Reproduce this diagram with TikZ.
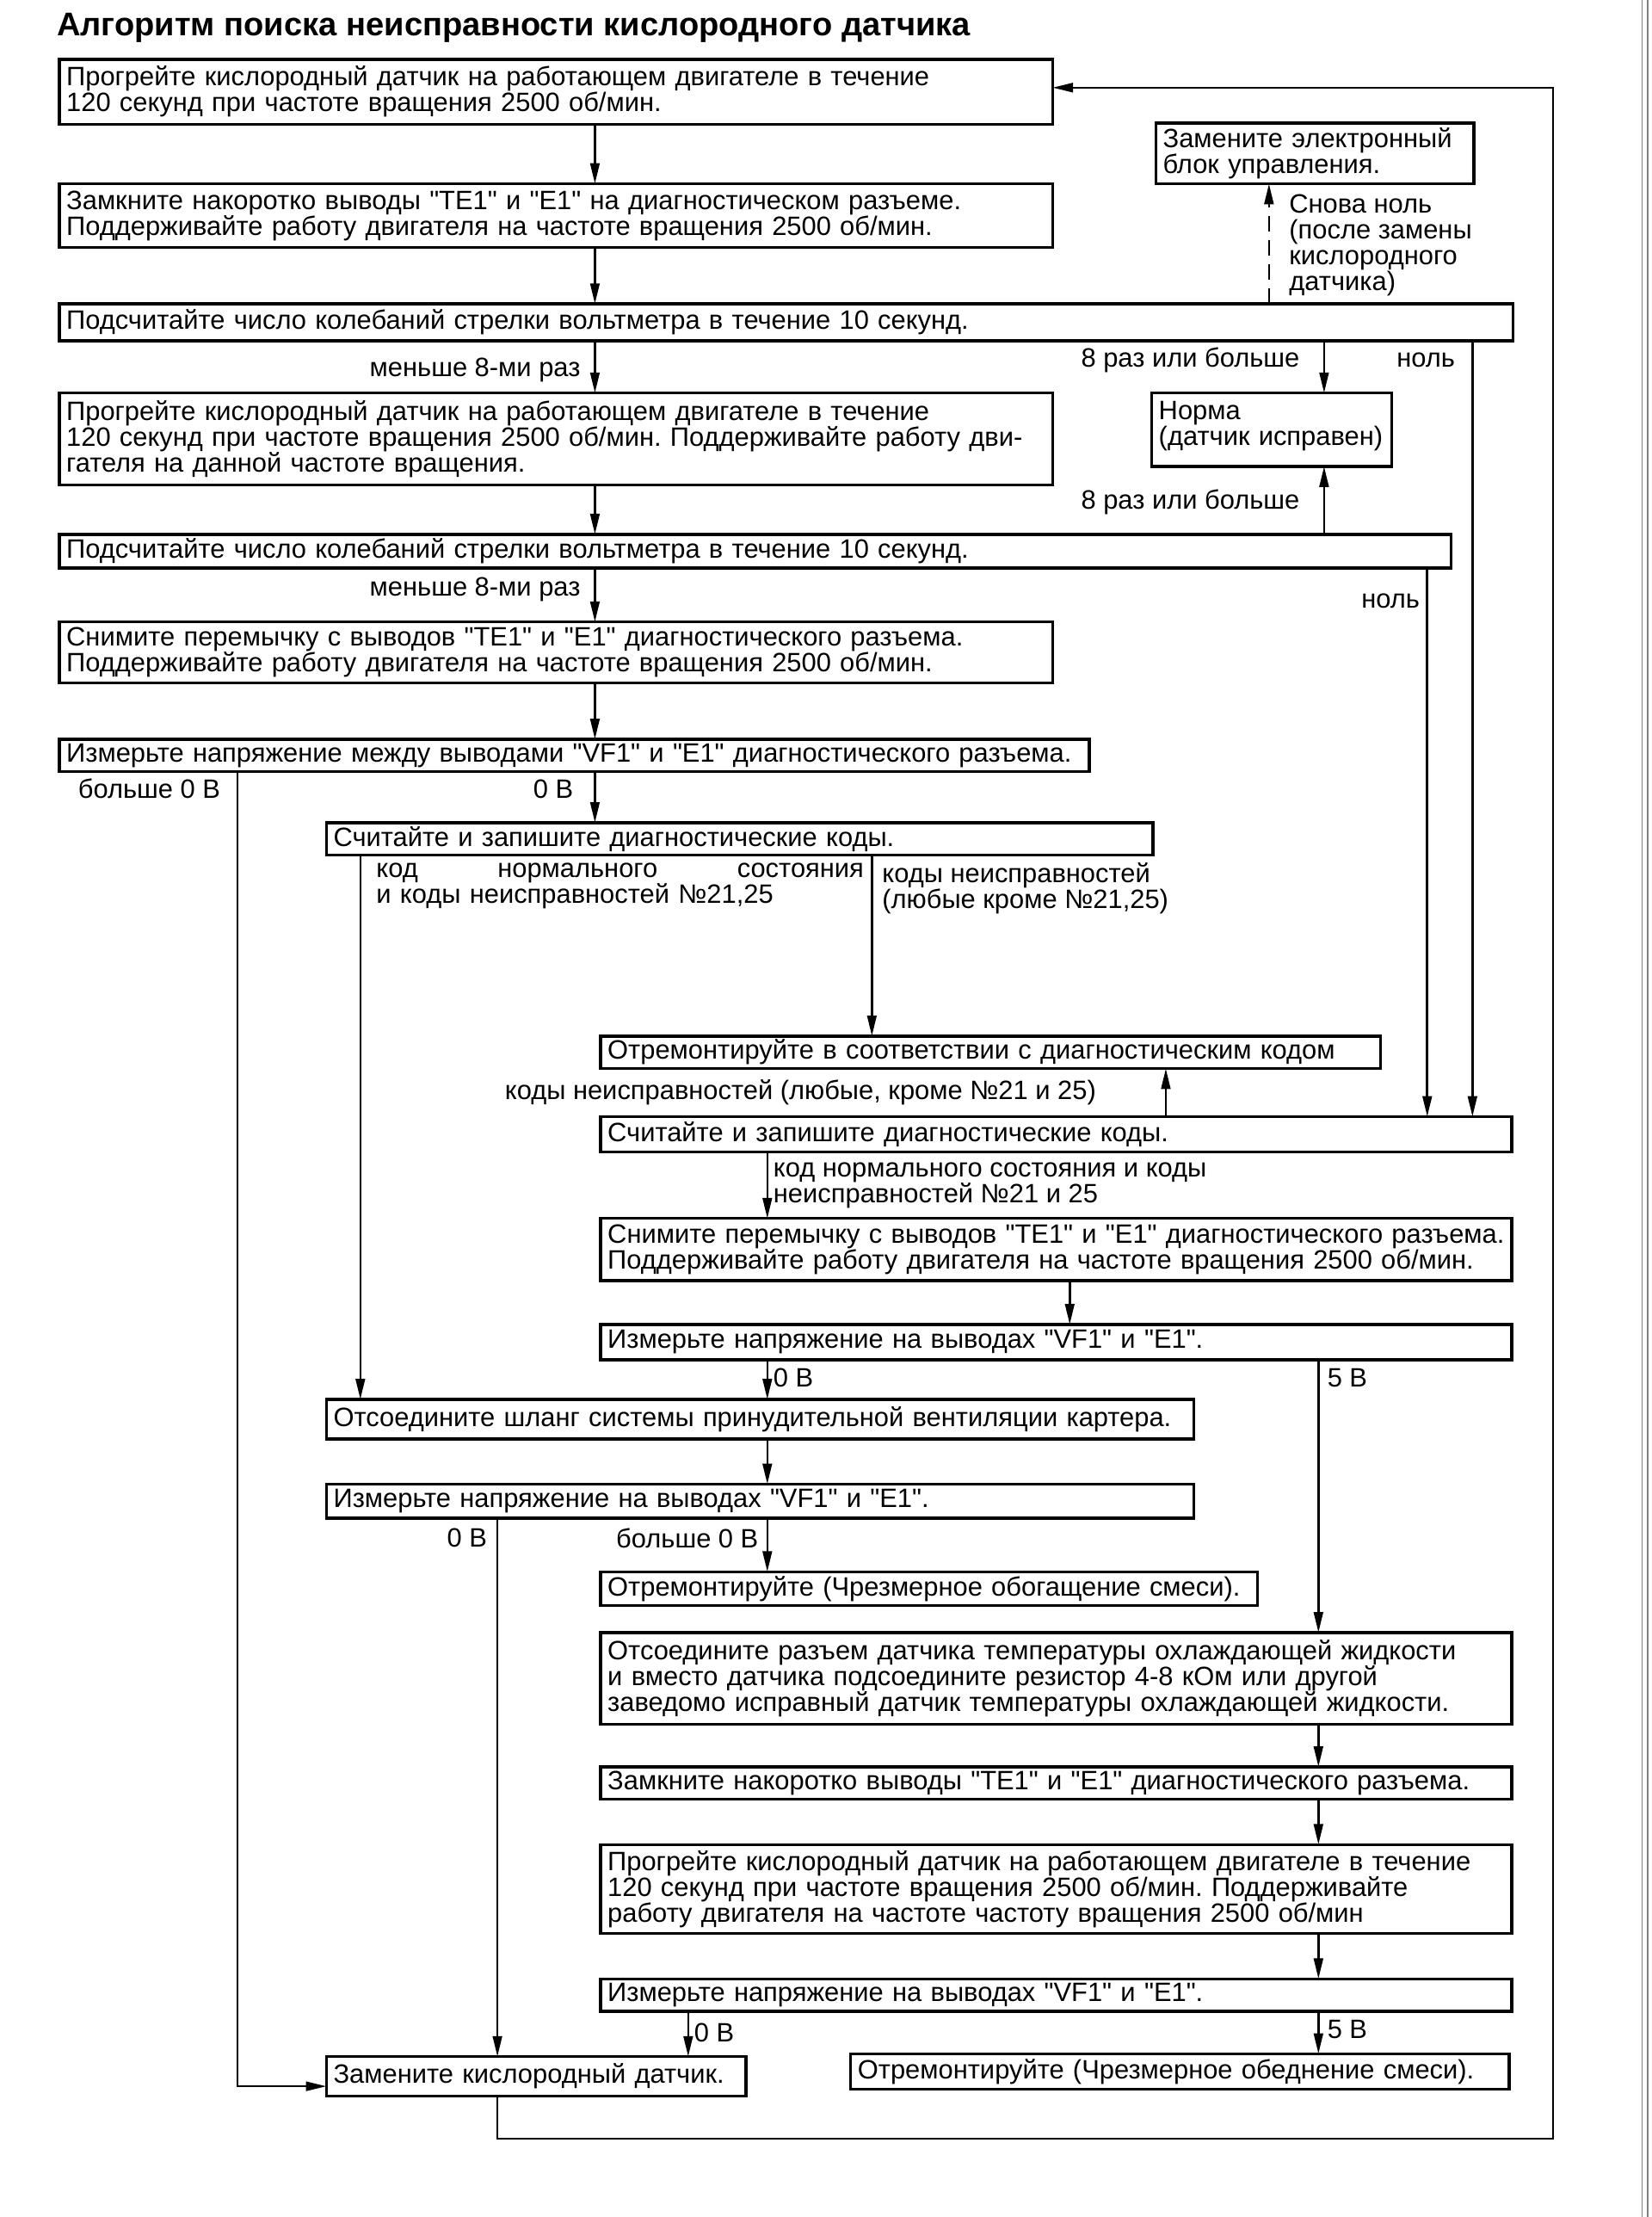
\documentclass[tikz,border=0pt]{standalone}
\usepackage{fontspec}
\setmainfont{Liberation Sans}[Ligatures=TeXOff]
\usetikzlibrary{arrows.meta}
\frenchspacing

\tikzset{
  box/.style={draw=black, line width=1.2pt, anchor=north west, align=left,
    inner xsep=0.1cm, inner ysep=0pt, outer sep=0pt,
    font=\fontsize{10.7}{10.4}\selectfont},
  lbl/.style={inner sep=0pt, align=left, font=\fontsize{10.7}{10.4}\selectfont},
  wire/.style={line width=0.9pt},
  arr/.style={wire, -{Triangle[length=0.29cm,width=0.13cm]}},
}

\begin{document}
\begin{tikzpicture}[x=0.02cm, y=-0.02cm]
    \useasboundingbox (0,0) rectangle (1169,1568.5);
    \draw[gray, line width=0.4pt] (1162,0) -- (1162,1568.5);
    \draw[gray, line width=0.4pt] (1166,0) -- (1166,1568.5);

    \node[anchor=base west, inner sep=0pt, font=\fontsize{13.2}{15}\selectfont\bfseries] (title) at (40,25)
        {Алгоритм поиска неисправности кислородного датчика};

    % column positions
    \coordinate (cA) at (421,0);
    \coordinate (cD) at (898,0);
    \coordinate (cN) at (937,0);
    \coordinate (cZ1) at (1042,0);
    \coordinate (cZ2) at (1010,0);
    \coordinate (cL) at (168,0);
    \coordinate (cK) at (255,0);
    \coordinate (cM) at (617,0);
    \coordinate (cU) at (825,0);
    \coordinate (cC) at (543,0);
    \coordinate (cQ) at (757,0);
    \coordinate (cF) at (933,0);
    \coordinate (cG) at (352,0);
    \coordinate (cH) at (487,0);
    \coordinate (cW) at (0,1476);
    \coordinate (cT) at (0,62);
    \coordinate (cB) at (1099,1513);

    % boxes
    \node[box, text width=13.86cm, minimum height=0.92cm] (b1) at (42,42)
        {Прогрейте кислородный датчик на работающем двигателе в течение\\120 секунд при частоте вращения 2500 об/мин.};
    \node[box, text width=13.86cm, minimum height=0.90cm] (b2) at (42,130)
        {Замкните накоротко выводы "TE1" и "E1" на диагностическом разъеме.\\Поддерживайте работу двигателя на частоте вращения 2500 об/мин.};
    \node[box, text width=4.30cm, minimum height=0.86cm] (ecu) at (818,87)
        {Замените электронный\\блок управления.};
    \node[box, text width=20.38cm, minimum height=0.52cm] (b3) at (42,215)
        {Подсчитайте число колебаний стрелки вольтметра в течение 10 секунд.};
    \node[box, text width=3.20cm, minimum height=1.04cm] (norma) at (815,278)
        {Норма\\(датчик исправен)\\[-5pt]~};
    \node[box, text width=13.86cm, minimum height=1.30cm] (b4) at (42,278)
        {Прогрейте кислородный датчик на работающем двигателе в течение\\120 секунд при частоте вращения 2500 об/мин. Поддерживайте работу дви-\\гателя на данной частоте вращения.};
    \node[box, text width=19.50cm, minimum height=0.48cm] (b5) at (42,378)
        {Подсчитайте число колебаний стрелки вольтметра в течение 10 секунд.};
    \node[box, text width=13.86cm, minimum height=0.86cm] (b6) at (42,440)
        {Снимите перемычку с выводов "TE1" и "E1" диагностического разъема.\\Поддерживайте работу двигателя на частоте вращения 2500 об/мин.};
    \node[box, text width=14.38cm, minimum height=0.46cm] (b7) at (42,523)
        {Измерьте напряжение между выводами "VF1" и "E1" диагностического разъема.};
    \node[box, text width=11.50cm, minimum height=0.46cm] (b8) at (231,582)
        {Считайте и запишите диагностические коды.};
    \node[box, text width=10.84cm, minimum height=0.46cm] (b9) at (425,733)
        {Отремонтируйте в соответствии с диагностическим кодом};
    \node[box, text width=12.70cm, minimum height=0.50cm] (b10) at (425,790)
        {Считайте и запишите диагностические коды.};
    \node[box, text width=12.70cm, minimum height=0.88cm] (b11) at (425,862)
        {Снимите перемычку с выводов "TE1" и "E1" диагностического разъема.\\Поддерживайте работу двигателя на частоте вращения 2500 об/мин.};
    \node[box, text width=12.70cm, minimum height=0.50cm] (b12) at (425,937)
        {Измерьте напряжение на выводах "VF1" и "E1".};
    \node[box, text width=12.08cm, minimum height=0.56cm] (b13) at (231,990)
        {Отсоедините шланг системы принудительной вентиляции картера.};
    \node[box, text width=12.08cm, minimum height=0.48cm] (b14) at (231,1050)
        {Измерьте напряжение на выводах "VF1" и "E1".};
    \node[box, text width=9.10cm, minimum height=0.48cm] (b16) at (425,1112)
        {Отремонтируйте (Чрезмерное обогащение смеси).};
    \node[box, text width=12.70cm, minimum height=1.30cm] (b15) at (425,1155)
        {Отсоедините разъем датчика температуры охлаждающей жидкости\\и вместо датчика подсоедините резистор 4-8 кОм или другой\\заведомо исправный датчик температуры охлаждающей жидкости.};
    \node[box, text width=12.70cm, minimum height=0.46cm] (b17) at (425,1250)
        {Замкните накоротко выводы "TE1" и "E1" диагностического разъема.};
    \node[box, text width=12.70cm, minimum height=1.26cm] (b18) at (425,1305)
        {Прогрейте кислородный датчик на работающем двигателе в течение\\120 секунд при частоте вращения 2500 об/мин. Поддерживайте\\работу двигателя на частоте частоту вращения 2500 об/мин};
    \node[box, text width=12.70cm, minimum height=0.46cm] (b19) at (425,1400)
        {Измерьте напряжение на выводах "VF1" и "E1".};
    \node[box, text width=5.74cm, minimum height=0.56cm] (b20) at (231,1455)
        {Замените кислородный датчик.};
    \node[box, text width=9.12cm, minimum height=0.50cm] (b21) at (602,1453)
        {Отремонтируйте (Чрезмерное обеднение смеси).};

    % labels
    \node[lbl, anchor=east] (l1) at (411,262) {меньше 8-ми раз};
    \node[lbl, anchor=east] (l2) at (920,255) {8 раз или больше};
    \node[lbl, anchor=east] (l3) at (1030,255) {ноль};
    \node[lbl, anchor=east] (l4) at (920,355) {8 раз или больше};
    \node[lbl, anchor=east] (l5) at (411,417) {меньше 8-ми раз};
    \node[lbl, anchor=east] (l6) at (1005,425) {ноль};
    \node[lbl, anchor=north west] (l7) at (912,137) {Снова ноль\\(после замены\\кислородного\\датчика)};
    \node[lbl, anchor=west] (l8) at (55,558) {больше 0 В};
    \node[lbl, anchor=east] (l9) at (406,558) {0 В};
    \node[lbl, anchor=north west, text width=6.9cm] (l10) at (266,610)
        {код\hfill нормального\hfill состояния\\и коды неисправностей №21,25};
    \node[lbl, anchor=north west] (l11) at (624,610) {коды неисправностей\\(любые кроме №21,25)};
    \node[lbl, anchor=west] (l12) at (357,773) {коды неисправностей (любые, кроме №21 и 25)};
    \node[lbl, anchor=north west] (l13) at (547,822) {код нормального состояния и коды\\неисправностей №21 и 25};
    \node[lbl, anchor=west] (l14) at (547,975) {0 В};
    \node[lbl, anchor=west] (l15) at (939,975) {5 В};
    \node[lbl, anchor=east] (l16) at (345,1088) {0 В};
    \node[lbl, anchor=east] (l17) at (537,1088) {больше 0 В};
    \node[lbl, anchor=west] (l18) at (491,1438) {0 В};
    \node[lbl, anchor=west] (l19) at (939,1436) {5 В};

    % connectors
    \draw[arr] (b1.south -| cA) -- (b2.north -| cA);
    \draw[arr] (b2.south -| cA) -- (b3.north -| cA);
    \draw[arr, dash pattern=on 0.22cm off 0.12cm] (b3.north -| cD) -- (ecu.south -| cD);
    \draw[arr] (b3.south -| cA) -- (b4.north -| cA);
    \draw[arr] (b3.south -| cN) -- (norma.north -| cN);
    \draw[arr] (b3.south -| cZ1) -- (b10.north -| cZ1);
    \draw[arr] (b4.south -| cA) -- (b5.north -| cA);
    \draw[arr] (b5.north -| cN) -- (norma.south -| cN);
    \draw[arr] (b5.south -| cA) -- (b6.north -| cA);
    \draw[arr] (b5.south -| cZ2) -- (b10.north -| cZ2);
    \draw[arr] (b6.south -| cA) -- (b7.north -| cA);
    \draw[arr] (b7.south -| cL) |- (b20.west |- cW);
    \draw[arr] (b7.south -| cA) -- (b8.north -| cA);
    \draw[arr] (b8.south -| cK) -- (b13.north -| cK);
    \draw[arr] (b8.south -| cM) -- (b9.north -| cM);
    \draw[arr] (b10.north -| cU) -- (b9.south -| cU);
    \draw[arr] (b10.south -| cC) -- (b11.north -| cC);
    \draw[arr] (b11.south -| cQ) -- (b12.north -| cQ);
    \draw[arr] (b12.south -| cC) -- (b13.north -| cC);
    \draw[arr] (b12.south -| cF) -- (b15.north -| cF);
    \draw[arr] (b13.south -| cC) -- (b14.north -| cC);
    \draw[arr] (b14.south -| cG) -- (b20.north -| cG);
    \draw[arr] (b14.south -| cC) -- (b16.north -| cC);
    \draw[arr] (b15.south -| cF) -- (b17.north -| cF);
    \draw[arr] (b17.south -| cF) -- (b18.north -| cF);
    \draw[arr] (b18.south -| cF) -- (b19.north -| cF);
    \draw[arr] (b19.south -| cH) -- (b20.north -| cH);
    \draw[arr] (b19.south -| cF) -- (b21.north -| cF);
    \draw[arr] (b20.south -| cG) |- (cB) |- (b1.east |- cT);
\end{tikzpicture}
\end{document}
